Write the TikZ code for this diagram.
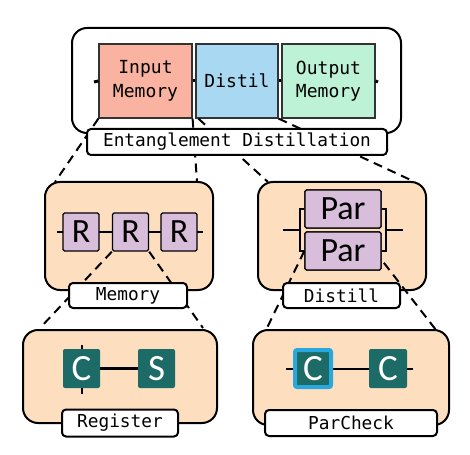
\documentclass[tikz,border=0pt]{standalone}
\usepackage{fontspec}
\newfontfamily\monofont{DejaVu Sans Mono}
\newfontfamily\calfont{Carlito}
\definecolor{peach}{HTML}{FDDFBF}
\definecolor{salmon}{HTML}{F9B3A0}
\definecolor{skyb}{HTML}{A9D9F2}
\definecolor{mint}{HTML}{BDF2D6}
\definecolor{lilac}{HTML}{D9BEDB}
\definecolor{tealc}{HTML}{1D6B66}
\definecolor{brightblue}{HTML}{29A8E0}
\definecolor{edgegray}{HTML}{333333}
\tikzset{
  outerbox/.style={draw=black, line width=2pt, rounded corners=15pt, inner sep=0pt},
  peachbox/.style={outerbox, fill=peach},
  topcomp/.style={draw=edgegray, line width=1.2pt, inner sep=0pt, align=center,
    font=\monofont\fontsize{18}{23.5}\selectfont},
  labelbox/.style={draw=black, fill=white, line width=2pt, rounded corners=4pt, inner sep=0pt,
    minimum height=25pt, font=\monofont\fontsize{17.8}{20}\selectfont},
  rbox/.style={draw=black, fill=lilac, line width=1.4pt, rounded corners=1.5pt, inner sep=0pt,
    font=\calfont\fontsize{34}{34}\selectfont},
  qbox/.style={fill=tealc, rounded corners=2pt, inner sep=0pt, text=white,
    minimum width=37pt, minimum height=39pt, font=\calfont\fontsize{37}{37}\selectfont},
  wire/.style={line width=2.2pt, black},
  zoomline/.style={line width=2pt, dash pattern=on 9pt off 6pt, black},
}
\begin{document}
\begin{tikzpicture}[x=1pt,y=-1pt]
\useasboundingbox (0,0) rectangle (470,454);
% ---------- top level ----------
\node[outerbox, fill=white, minimum width=329pt, minimum height=105pt] (topbox) at (236.5,80.5) {};
\coordinate (wl) at (94,82);
\coordinate (wr) at (378,82);
\node[topcomp, fill=salmon, minimum width=93pt, minimum height=74pt] (inmem) at (145.5,81) {Input\\Memory};
\node[topcomp, fill=skyb, minimum width=82pt, minimum height=74pt] (distil) at (237,81) {Distil};
\node[topcomp, fill=mint, minimum width=93pt, minimum height=74pt] (outmem) at (328.5,81) {Output\\Memory};
\draw[line width=3pt] (wl) -- (inmem.west);
\draw[line width=3pt] (inmem.east) -- (distil.west);
\draw[line width=3pt] (distil.east) -- (outmem.west);
\draw[line width=3pt] (outmem.east) -- (wr);
% zoom lines from top level
\coordinate (memtl) at (55,182);
\coordinate (memtr) at (197,182);
\coordinate (distl) at (268,182);
\coordinate (distr) at (415,182);
\draw[zoomline] (inmem.south west) -- (memtl);
\draw[zoomline] (inmem.south east) -- (memtr);
\draw[zoomline] ([xshift=3pt]distil.south west) -- (distl);
\draw[zoomline] (distil.south east) -- (distr);
\node[labelbox, minimum width=300pt, minimum height=26pt] (edlabel) at (237,142) {Entanglement Distillation};
% ---------- Memory ----------
\node[peachbox, minimum width=168pt, minimum height=108pt] (membox) at (129,236) {};
\coordinate (mwl) at (57,232);
\coordinate (mwr) at (203,232);
\draw[wire] (mwl) -- (mwr);
\node[rbox, minimum width=36pt, minimum height=38pt] (r1) at (81,232) {R};
\node[rbox, minimum width=36pt, minimum height=38pt] (r2) at (130.5,232) {R};
\node[rbox, minimum width=36pt, minimum height=38pt] (r3) at (179,232) {R};
\coordinate (regtl) at (40,328);
\coordinate (regtr) at (203,328);
\draw[zoomline] (r2.south west) -- (regtl);
\draw[zoomline] (r2.south east) -- (regtr);
\node[labelbox, minimum width=118pt] (memlabel) at (128,295.5) {Memory};
% ---------- Distill ----------
\node[peachbox, minimum width=168pt, minimum height=108pt] (distbox) at (342,236) {};
\coordinate (dwl) at (283,230);
\coordinate (dwr) at (403,230);
\coordinate (pcl) at (266,330);
\coordinate (pcr) at (436,330);
\coordinate (brl) at (300,230);
\coordinate (brr) at (386,230);
\node[rbox, minimum width=76pt, minimum height=38pt] (par1) at (343,209) {Par};
\node[rbox, minimum width=76pt, minimum height=38pt] (par2) at (343,251) {Par};
\draw[zoomline] (par2.west) -- (pcl);
\draw[zoomline] ([xshift=-7pt]par2.east) -- (pcr);
\draw[wire] (dwl) -- (brl);
\draw[wire] (par1.west) -| (brl) |- (par2.west);
\draw[wire] (par1.east) -| (brr) |- (par2.east);
\draw[wire] (brr) -- (dwr);
\node[rbox, minimum width=76pt, minimum height=38pt] at (par1) {Par};
\node[rbox, minimum width=76pt, minimum height=38pt] at (par2) {Par};
\node[labelbox, minimum width=117pt] (distlabel) at (341.5,295.5) {Distill};
% ---------- Register ----------
\node[peachbox, minimum width=194pt, minimum height=93pt] (regbox) at (120,376.5) {};
\coordinate (cst) at (82,345);
\coordinate (csb) at (82,394);
\draw[wire] (cst) -- (csb);
\node[qbox] (qc) at (81.5,368.5) {C};
\node[qbox] (qs) at (156.5,368.5) {S};
\draw[wire] (qc.east) -- (qs.west);
\node[labelbox, minimum width=116pt, minimum height=27pt] (reglabel) at (120,423) {Register};
% ---------- ParCheck ----------
\node[peachbox, minimum width=196pt, minimum height=95pt] (pcbox) at (351,377.5) {};
\coordinate (pwl) at (286,369);
\coordinate (pwr) at (413,369);
\draw[wire] (pwl) -- (pwr);
\node[qbox, draw=brightblue, line width=4pt, minimum width=36pt, minimum height=37pt] (pc1) at (313,368.5) {C};
\node[qbox, minimum width=38pt] (pc2) at (388,368.5) {C};
\node[labelbox, minimum width=172pt, minimum height=26pt] (pclabel) at (351,423) {ParCheck};
\end{tikzpicture}
\end{document}
